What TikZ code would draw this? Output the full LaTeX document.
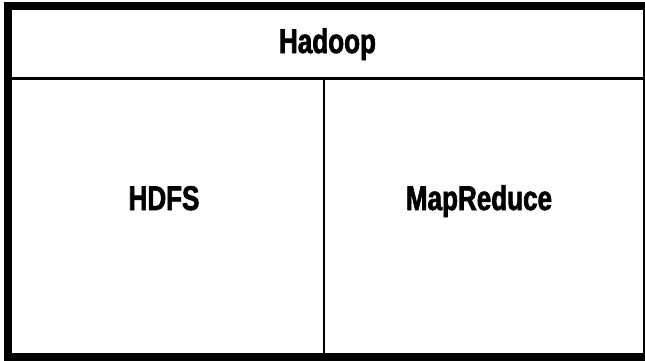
\documentclass[tikz,border=0pt]{standalone}
\usepackage{fontspec}
\setmainfont[FakeStretch=0.76,BoldFeatures={FakeBold=2}]{Liberation Sans}
\tikzset{label/.style={font=\fontsize{19.5}{22}\selectfont\bfseries, anchor=base, inner sep=0pt}}
\begin{document}
\begin{tikzpicture}[x=0.02cm,y=-0.02cm]
\useasboundingbox (0,0) rectangle (645,360);
%outer frame
\draw[line width=0.16cm] (8,6) rectangle (647,356.5);
\draw[line width=0.06cm] (12,78.5) -- (643,78.5);
\draw[line width=0.05cm] (324,80) -- (324,353);
\node[label] (hadoop) at (327.5,53) {Hadoop};
\node[label] (hdfs) at (164,210) {HDFS};
\node[label] (mapreduce) at (479,210) {MapReduce};
\end{tikzpicture}
\end{document}
